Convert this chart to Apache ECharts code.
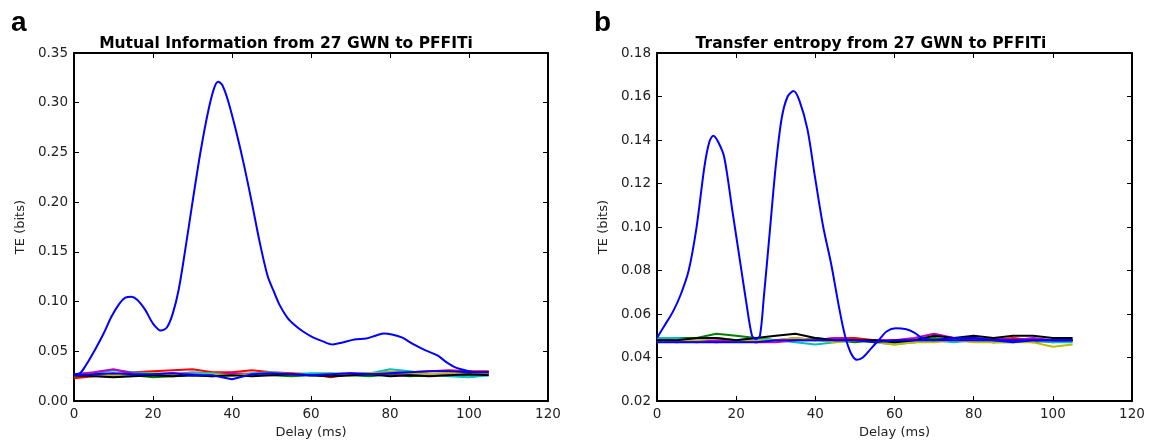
<!DOCTYPE html>
<html>
<head>
<meta charset="utf-8">
<script src="https://cdn.jsdelivr.net/npm/echarts@6/dist/echarts.min.js"></script>
<style>
  html, body { margin: 0; padding: 0; background: #fff; }
  #chart { width: 1149px; height: 444px; }
</style>
</head>
<body>
<div id="chart"></div>
<script>
// main curve, panel a (mutual information)
var miDelay = [0, 1.5, 3, 5.5, 7.5, 9.5, 11.5, 13, 14.5, 16, 18, 20, 22, 23.5, 25, 26.5, 28, 30, 32, 34, 35.5, 36.5, 37.5, 39, 41, 43, 45, 47, 49, 50.5, 52, 54, 56, 58, 60.5, 63, 65.5, 68, 71, 74, 76.5, 78.5, 80.5, 83, 86, 89, 92, 94, 96, 98, 100, 102, 105];
var miMain = [0.027, 0.028, 0.036, 0.053, 0.068, 0.085, 0.098, 0.104, 0.105, 0.102, 0.092, 0.078, 0.071, 0.074, 0.088, 0.112, 0.148, 0.200, 0.250, 0.292, 0.315, 0.321, 0.318, 0.302, 0.272, 0.238, 0.200, 0.160, 0.126, 0.111, 0.097, 0.084, 0.076, 0.070, 0.064, 0.060, 0.057, 0.059, 0.062, 0.063, 0.066, 0.068, 0.067, 0.064, 0.057, 0.051, 0.046, 0.040, 0.035, 0.032, 0.030, 0.029, 0.029];

// main curve, panel b (transfer entropy)
var teDelay = [0, 2, 4, 6, 8, 10, 12, 13.2, 14.2, 15.5, 17, 19, 21, 22.5, 24, 25, 26, 27, 28.5, 30, 31.5, 33, 34.5, 36, 38, 40, 42, 44, 46, 47.5, 49, 50.5, 52, 54, 56, 58, 60.3, 63, 65, 67, 70, 75, 80, 85, 90, 95, 100, 105];
var teMain = [0.049, 0.055, 0.061, 0.069, 0.080, 0.100, 0.128, 0.139, 0.142, 0.139, 0.132, 0.108, 0.084, 0.066, 0.050, 0.0485, 0.050, 0.068, 0.098, 0.128, 0.150, 0.160, 0.1625, 0.158, 0.145, 0.122, 0.100, 0.083, 0.063, 0.050, 0.042, 0.039, 0.040, 0.044, 0.048, 0.052, 0.0535, 0.053, 0.0515, 0.049, 0.048, 0.049, 0.049, 0.048, 0.048, 0.048, 0.048, 0.048];

// surrogate curves (shared delay grid)
var noiseDelay = [0, 5, 10, 15, 20, 25, 30, 35, 40, 45, 50, 55, 60, 65, 70, 75, 80, 85, 90, 95, 100, 105];
var noiseColors = ['#008000', '#ff0000', '#00bfbf', '#bf00bf', '#bfbf00', '#000000', '#0000ff'];

var miNoise = [
  [0.025, 0.026, 0.025, 0.026, 0.024, 0.025, 0.026, 0.025, 0.026, 0.027, 0.026, 0.025, 0.026, 0.025, 0.026, 0.025, 0.027, 0.025, 0.026, 0.027, 0.026, 0.027],
  [0.023, 0.025, 0.027, 0.029, 0.030, 0.031, 0.032, 0.029, 0.029, 0.031, 0.029, 0.028, 0.027, 0.024, 0.027, 0.028, 0.029, 0.029, 0.030, 0.031, 0.030, 0.030],
  [0.027, 0.028, 0.031, 0.029, 0.028, 0.027, 0.029, 0.028, 0.027, 0.028, 0.029, 0.027, 0.028, 0.028, 0.027, 0.028, 0.032, 0.030, 0.027, 0.025, 0.024, 0.026],
  [0.027, 0.029, 0.032, 0.028, 0.027, 0.028, 0.027, 0.026, 0.028, 0.027, 0.028, 0.027, 0.026, 0.027, 0.028, 0.027, 0.028, 0.027, 0.026, 0.027, 0.028, 0.027],
  [0.026, 0.027, 0.026, 0.027, 0.028, 0.027, 0.026, 0.027, 0.026, 0.027, 0.028, 0.027, 0.026, 0.027, 0.026, 0.028, 0.029, 0.028, 0.027, 0.028, 0.027, 0.028],
  [0.026, 0.025, 0.024, 0.025, 0.026, 0.025, 0.026, 0.025, 0.026, 0.025, 0.026, 0.027, 0.026, 0.025, 0.026, 0.027, 0.025, 0.026, 0.025, 0.026, 0.027, 0.026],
  [0.026, 0.027, 0.028, 0.027, 0.027, 0.028, 0.026, 0.026, 0.022, 0.027, 0.028, 0.027, 0.026, 0.027, 0.028, 0.027, 0.028, 0.029, 0.030, 0.030, 0.029, 0.029]
];

var teNoise = [
  [0.048, 0.049, 0.049, 0.051, 0.050, 0.049, 0.048, 0.048, 0.049, 0.048, 0.047, 0.048, 0.047, 0.048, 0.049, 0.048, 0.048, 0.047, 0.048, 0.047, 0.048, 0.048],
  [0.048, 0.047, 0.048, 0.047, 0.048, 0.047, 0.048, 0.049, 0.048, 0.049, 0.049, 0.048, 0.048, 0.047, 0.048, 0.049, 0.049, 0.048, 0.049, 0.048, 0.047, 0.048],
  [0.049, 0.049, 0.048, 0.049, 0.048, 0.049, 0.048, 0.047, 0.046, 0.047, 0.048, 0.047, 0.046, 0.047, 0.048, 0.047, 0.048, 0.047, 0.047, 0.048, 0.047, 0.047],
  [0.048, 0.048, 0.047, 0.048, 0.048, 0.047, 0.047, 0.048, 0.048, 0.049, 0.048, 0.048, 0.048, 0.049, 0.051, 0.049, 0.048, 0.049, 0.048, 0.049, 0.048, 0.048],
  [0.047, 0.048, 0.048, 0.049, 0.048, 0.048, 0.048, 0.049, 0.048, 0.047, 0.048, 0.047, 0.046, 0.047, 0.047, 0.048, 0.047, 0.047, 0.047, 0.047, 0.045, 0.046],
  [0.048, 0.048, 0.049, 0.049, 0.048, 0.049, 0.050, 0.051, 0.049, 0.048, 0.048, 0.048, 0.047, 0.048, 0.050, 0.049, 0.050, 0.049, 0.050, 0.050, 0.049, 0.049],
  [0.047, 0.047, 0.047, 0.047, 0.047, 0.047, 0.048, 0.048, 0.048, 0.048, 0.048, 0.047, 0.048, 0.048, 0.048, 0.048, 0.048, 0.048, 0.047, 0.048, 0.048, 0.048]
];

var FONT = 'DejaVu Sans';

function pairs(xs, ys) {
  return xs.map(function (x, i) { return [x, ys[i]]; });
}

function xAxes(gridIndex) {
  var base = {
    gridIndex: gridIndex, type: 'value', min: 0, max: 120, interval: 20,
    splitLine: { show: false },
    axisLine: { onZero: false, lineStyle: { color: '#000', width: 2 } },
    axisTick: { inside: true, length: 5, lineStyle: { color: '#000' } }
  };
  var bottom = Object.assign({}, base, {
    position: 'bottom',
    name: 'Delay (ms)', nameLocation: 'middle', nameGap: 24,
    nameTextStyle: { fontFamily: FONT, fontSize: 13, color: '#222' },
    axisLabel: { fontFamily: FONT, fontSize: 13.5, color: '#222', margin: 6 }
  });
  var top = Object.assign({}, base, { position: 'top', axisLabel: { show: false } });
  return [bottom, top];
}

function yAxes(gridIndex, min, max, step) {
  var base = {
    gridIndex: gridIndex, type: 'value', min: min, max: max, interval: step,
    splitLine: { show: false },
    axisLine: { onZero: false, lineStyle: { color: '#000', width: 2 } },
    axisTick: { inside: true, length: 5, lineStyle: { color: '#000' } }
  };
  var left = Object.assign({}, base, {
    position: 'left',
    name: 'TE (bits)', nameLocation: 'middle', nameGap: 47,
    nameTextStyle: { fontFamily: FONT, fontSize: 13, color: '#222' },
    axisLabel: {
      fontFamily: FONT, fontSize: 13.5, color: '#222', margin: 6,
      formatter: function (v) { return v.toFixed(2); }
    }
  });
  var right = Object.assign({}, base, { position: 'right', axisLabel: { show: false } });
  return [left, right];
}

var series = [];
miNoise.forEach(function (ys, i) {
  series.push({
    type: 'line', xAxisIndex: 0, yAxisIndex: 0, symbol: 'none', silent: true,
    lineStyle: { color: noiseColors[i], width: 2 }, data: pairs(noiseDelay, ys)
  });
});
series.push({
  type: 'line', xAxisIndex: 0, yAxisIndex: 0, symbol: 'none', smooth: 0.3,
  lineStyle: { color: '#0000ff', width: 2 }, data: pairs(miDelay, miMain)
});
teNoise.forEach(function (ys, i) {
  series.push({
    type: 'line', xAxisIndex: 2, yAxisIndex: 2, symbol: 'none', silent: true,
    lineStyle: { color: noiseColors[i], width: 2 }, data: pairs(noiseDelay, ys)
  });
});
series.push({
  type: 'line', xAxisIndex: 2, yAxisIndex: 2, symbol: 'none', smooth: 0.3,
  lineStyle: { color: '#0000ff', width: 2 }, data: pairs(teDelay, teMain)
});

var chart = echarts.init(document.getElementById('chart'));
chart.setOption({
  animation: false,
  backgroundColor: '#fff',
  title: [
    { text: 'a', left: 6, top: 4, textStyle: { fontFamily: 'Liberation Sans', fontSize: 28, fontWeight: 'bold', color: '#000' } },
    { text: 'b', left: 589, top: 4, textStyle: { fontFamily: 'Liberation Sans', fontSize: 28, fontWeight: 'bold', color: '#000' } },
    { text: 'Mutual Information from 27 GWN to PFFITi', left: 281, top: 31, textAlign: 'center',
      textStyle: { fontFamily: FONT, fontSize: 15.5, fontWeight: 'bold', color: '#000' } },
    { text: 'Transfer entropy from 27 GWN to PFFITi', left: 866, top: 31, textAlign: 'center',
      textStyle: { fontFamily: FONT, fontSize: 15.5, fontWeight: 'bold', color: '#000' } }
  ],
  grid: [
    { left: 74, top: 53, width: 474, height: 352 },
    { left: 657, top: 53, width: 475, height: 351 }
  ],
  xAxis: xAxes(0).concat(xAxes(1)),
  yAxis: yAxes(0, 0, 0.35, 0.05).concat(yAxes(1, 0.02, 0.18, 0.02)),
  series: series
});
</script>
</body>
</html>
